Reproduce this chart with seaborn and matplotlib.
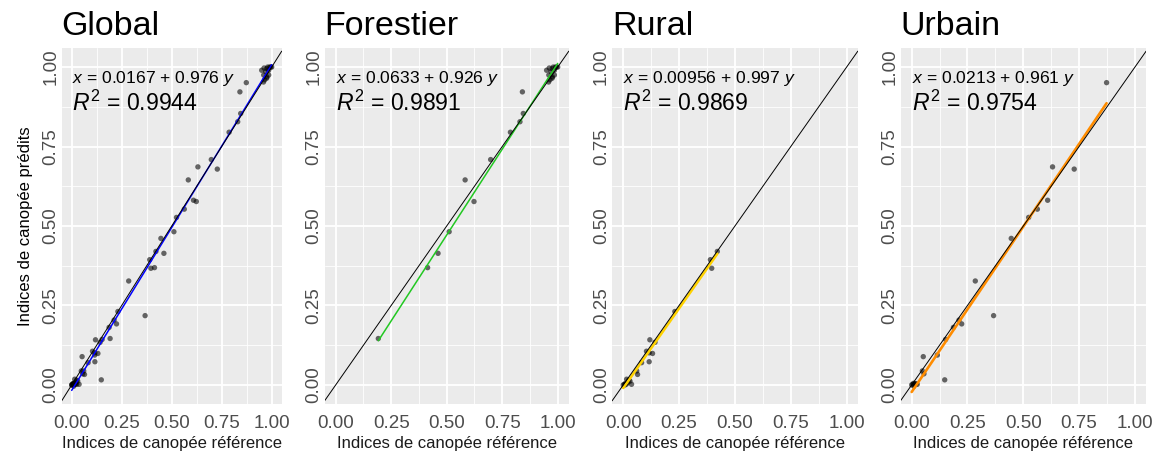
import numpy as np
import pandas as pd
import seaborn as sns
import matplotlib.pyplot as plt

# reference (x) and predicted (y) canopy indices
forest_ref = [0.192, 0.414, 0.461, 0.511, 0.583, 0.623, 0.698, 0.787, 0.830, 0.845,
              0.841, 0.959, 0.976, 0.962, 0.950, 0.960, 0.965, 0.970, 0.975, 0.980,
              0.985, 0.990, 0.995, 1.000, 0.975, 0.985]
forest_pred = [0.146, 0.369, 0.414, 0.482, 0.645, 0.577, 0.709, 0.795, 0.828, 0.854,
               0.922, 0.953, 0.969, 0.997, 0.990, 0.975, 0.960, 0.985, 0.995, 1.000,
               0.990, 1.000, 1.000, 1.000, 0.965, 0.975]

rural_ref = [0.421, 0.390, 0.396, 0.231, 0.119, 0.142, 0.104, 0.116, 0.131, 0.116,
             0.082, 0.060, 0.064, 0.030, 0.015, 0.037, 0.000, 0.005, 0.010, 0.020,
             0.025, 0.008, 0.015]
rural_pred = [0.420, 0.394, 0.367, 0.231, 0.142, 0.134, 0.106, 0.101, 0.099, 0.073,
              0.070, 0.044, 0.033, 0.012, 0.018, 0.002, 0.000, 0.002, 0.005, 0.008,
              0.015, 0.000, 0.003]

urban_ref = [0.873, 0.728, 0.631, 0.609, 0.563, 0.524, 0.446, 0.285, 0.367, 0.212,
             0.224, 0.187, 0.152, 0.115, 0.052, 0.048, 0.055, 0.148, 0.000, 0.005,
             0.010, 0.015, 0.020, 0.008, 0.025]
urban_pred = [0.951, 0.679, 0.686, 0.581, 0.553, 0.527, 0.461, 0.327, 0.218, 0.204,
              0.192, 0.181, 0.143, 0.094, 0.089, 0.044, 0.035, 0.016, 0.000, 0.002,
              -0.004, 0.004, 0.003, 0.005, 0.002]

titles = ["Global", "Forestier", "Rural", "Urbain"]
intercepts = [0.0167, 0.0633, 0.00956, 0.0213]
slopes = [0.976, 0.926, 0.997, 0.961]
r2_values = ["0.9944", "0.9891", "0.9869", "0.9754"]
eq_texts = ["0.0167", "0.0633", "0.00956", "0.0213"]
slope_texts = ["0.976", "0.926", "0.997", "0.961"]
line_colors = ["#0000FF", "#22C822", "#FFD200", "#FF8C00"]
line_widths = [1.1, 1.1, 1.9, 1.9]
tick_vals = [0, 0.25, 0.5, 0.75, 1.0]
tick_labels = ["0.00", "0.25", "0.50", "0.75", "1.00"]

forest = pd.DataFrame({"ref": forest_ref, "pred": forest_pred})
rural = pd.DataFrame({"ref": rural_ref, "pred": rural_pred})
urban = pd.DataFrame({"ref": urban_ref, "pred": urban_pred})
glob = pd.concat([forest, rural, urban], ignore_index=True)
datasets = [glob, forest, rural, urban]

sns.set_theme(style="darkgrid")
plt.rcParams["font.family"] = ["Liberation Sans", "DejaVu Sans"]
plt.rcParams["mathtext.fontset"] = "custom"
plt.rcParams["mathtext.rm"] = "Liberation Sans"
plt.rcParams["mathtext.it"] = "Liberation Sans:italic"
plt.rcParams["mathtext.bf"] = "Liberation Sans:bold"

W, H = 1159, 458
fig = plt.figure(figsize=(W / 100, H / 100), dpi=100)
fig.patch.set_facecolor("white")

# panel geometry in pixels: (left, width)
panels_px = [(61.7, 220.0), (324.6, 244.2), (612.1, 245.7), (900.5, 245.6)]
top_px, bottom_px = 48.0, 404.0

for i, (df, name) in enumerate(zip(datasets, titles)):
    left, width = panels_px[i]
    ax = fig.add_axes([left / W, 1 - bottom_px / H, width / W, (bottom_px - top_px) / H])
    ax.set_facecolor("#EBEBEB")
    ax.set_xlim(-0.05, 1.05)
    ax.set_ylim(-0.06, 1.06)
    ax.set_xticks(tick_vals)
    ax.set_xticklabels(tick_labels)
    ax.set_yticks(tick_vals)
    ax.set_yticklabels(tick_labels, rotation=90, va="center")
    ax.set_xticks([0.125, 0.375, 0.625, 0.875], minor=True)
    ax.set_yticks([0.125, 0.375, 0.625, 0.875], minor=True)
    ax.grid(which="major", color="white", lw=1.3)
    ax.grid(which="minor", color="white", lw=0.6)
    ax.set_axisbelow(True)
    for sp in ax.spines.values():
        sp.set_visible(False)
    ax.tick_params(which="minor", length=0)
    ax.tick_params(which="major", length=2.6, width=0.8, color="#333333",
                   labelsize=13.5, labelcolor="#4D4D4D")
    ax.tick_params(axis="x", pad=5.0)
    ax.tick_params(axis="y", pad=-1.0)

    sns.scatterplot(data=df, x="ref", y="pred", color="black", alpha=0.58,
                    s=15, edgecolor="none", ax=ax, zorder=3)

    # fitted line x = a + b*y, drawn over the range of the reference values
    x_fit = np.array([df["ref"].min(), df["ref"].max()])
    y_fit = (x_fit - intercepts[i]) / slopes[i]
    sns.lineplot(x=x_fit, y=y_fit, color=line_colors[i], lw=line_widths[i],
                 sort=False, estimator=None, ax=ax, zorder=4)
    ax.axline((0, 0), slope=1, color="black", lw=0.7, zorder=5)

    ax.text(0.0, 0.950, f"$x$ = {eq_texts[i]} + {slope_texts[i]} $y$",
            fontsize=12.6, va="baseline", ha="left", color="black", zorder=6)
    ax.text(0.0, 0.861, f"$R^2$ = {r2_values[i]}",
            fontsize=16.6, va="baseline", ha="left", color="black", zorder=6)

    ax.set_title(name, loc="left", fontsize=24.5, pad=9.4, color="black")
    ax.set_xlabel("Indices de canopée référence", fontsize=12, color="#1A1A1A", labelpad=3.5)
    if i == 0:
        ax.set_ylabel("Indices de canopée prédits", fontsize=12, color="black", labelpad=7)
    else:
        ax.set_ylabel("")

fig.savefig("out.png", dpi=100)
